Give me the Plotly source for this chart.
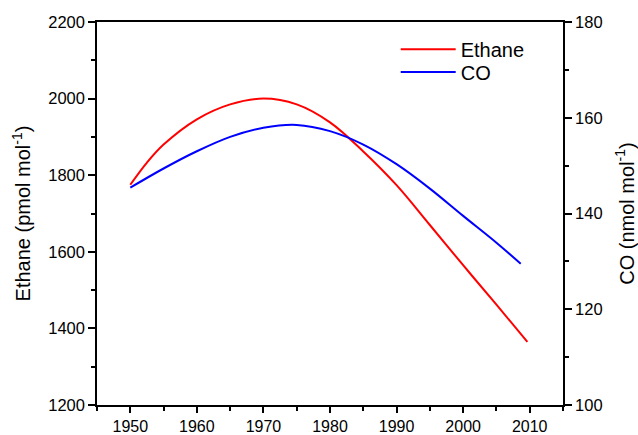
import plotly.graph_objects as go

years_ethane = [1950, 1952.5, 1955, 1960, 1965, 1970, 1975, 1980, 1985, 1990, 1995, 2000, 2005, 2009.65]
ethane = [1775, 1833, 1880, 1946, 1985, 2000, 1985, 1938, 1862, 1774, 1670, 1565, 1462, 1365]

years_co = [1950, 1955, 1960, 1965, 1970, 1975, 1980, 1985, 1990, 1995, 2000, 2005, 2008.65]
co = [145.4, 149.4, 153.0, 156.0, 157.9, 158.5, 157.2, 154.4, 150.3, 145.2, 139.5, 133.9, 129.5]

x_ticks = [1950, 1960, 1970, 1980, 1990, 2000, 2010]
left_ticks = [1200, 1400, 1600, 1800, 2000, 2200]
right_ticks = [100, 120, 140, 160, 180]

FONT = "Arial, Liberation Sans, sans-serif"

fig = go.Figure()
fig.add_trace(go.Scatter(x=years_ethane, y=ethane, mode="lines", name="Ethane", legend="legend",
                         line=dict(color="#ff0000", width=2, shape="spline", smoothing=1.0)))
fig.add_trace(go.Scatter(x=years_co, y=co, mode="lines", name="CO", yaxis="y2", legend="legend2",
                         line=dict(color="#0000ff", width=2, shape="spline", smoothing=1.0)))

axis_common = dict(showline=True, linecolor="black", linewidth=1.5, showgrid=False,
                   zeroline=False, ticks="outside", tickcolor="black", tickwidth=1.5,
                   automargin=False)

legend_common = dict(xanchor="left", yanchor="top", bgcolor="rgba(0,0,0,0)",
                     font=dict(family=FONT, size=20, color="black"), itemwidth=55)

fig.update_layout(
    width=638, height=435,
    margin=dict(l=97, r=75, t=22, b=30),
    plot_bgcolor="white", paper_bgcolor="white",
    font=dict(family=FONT, color="black"),
    showlegend=True,
    legend=dict(x=0.641, y=0.98, **legend_common),
    legend2=dict(x=0.641, y=0.9206, **legend_common),
    xaxis=dict(range=[1945, 2015], tickvals=x_ticks, mirror=True, ticklen=6,
               tickfont=dict(family=FONT, size=16, color="black"),
               minor=dict(ticks="outside", dtick=5, tick0=1945, ticklen=4,
                          tickcolor="black", tickwidth=1.5),
               **axis_common),
    yaxis=dict(range=[1200, 2200], tickvals=left_ticks, ticklen=7,
               tickfont=dict(family=FONT, size=16.5, color="black"),
               title=dict(text="Ethane (pmol mol<sup>-1</sup>)", font=dict(family=FONT, size=20, color="black"),
                          standoff=12),
               minor=dict(ticks="outside", dtick=100, tick0=1200, ticklen=4,
                          tickcolor="black", tickwidth=1.5),
               **axis_common),
    yaxis2=dict(range=[100, 180], tickvals=right_ticks, overlaying="y", side="right", ticklen=7,
                tickfont=dict(family=FONT, size=16.5, color="black"),
                title=dict(text="CO (nmol mol<sup>-1</sup>)", font=dict(family=FONT, size=20, color="black"),
                           standoff=18),
                minor=dict(ticks="outside", dtick=10, tick0=100, ticklen=4,
                           tickcolor="black", tickwidth=1.5),
                **axis_common),
)

fig.write_html("out.html", config={"displayModeBar": False},
               post_script="document.body.style.margin='0px';document.body.style.overflow='hidden';")
